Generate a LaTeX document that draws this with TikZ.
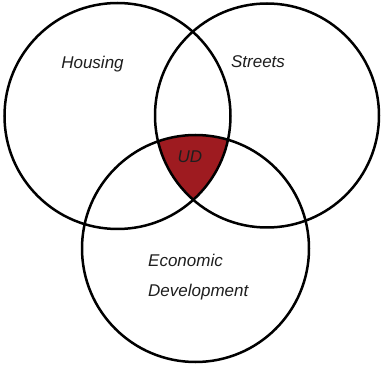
\documentclass[tikz,border=0pt]{standalone}
\usepackage{fontspec}
\setmainfont{Liberation Sans}
\definecolor{udred}{RGB}{158,27,32}
\definecolor{txt}{RGB}{30,30,30}
\begin{document}
\begin{tikzpicture}[x=1pt,y=-1pt,
  ring/.style={draw=black,line width=2.5pt},
  lbl/.style={font=\fontsize{17}{20}\selectfont\itshape,text=txt,inner sep=0pt,anchor=base}]
\useasboundingbox (0,0) rectangle (383,366);
\coordinate (L) at (117.5,116);
\coordinate (R) at (267,115.5);
\coordinate (B) at (195.5,248.5);
\begin{scope}
  \clip (L) circle (113);
  \clip (R) circle (112);
  \fill[udred] (B) circle (113.5);
\end{scope}
\draw[ring] (L) circle (113);
\draw[ring] (R) circle (112);
\draw[ring] (B) circle (113.5);
\node[lbl] (housing) at (92.5,69) {Housing};
\node[lbl] (streets) at (258,68) {Streets};
\node[lbl] (ud) at (190,163) {UD};
\node[lbl,anchor=base west] (econ) at (148,267) {Economic};
\node[lbl,anchor=base west] (dev) at (148,296) {Development};
\end{tikzpicture}
\end{document}
